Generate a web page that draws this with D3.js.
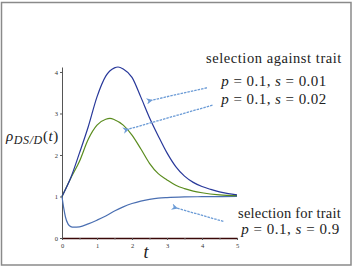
<!DOCTYPE html>
<html>
<head>
<meta charset="utf-8">
<script src="https://cdn.jsdelivr.net/npm/d3@7"></script>
<style>
  body { margin: 0; background: #fff; }
</style>
</head>
<body>
<script>
// values
const tVals = [0, 0.25, 0.5, 0.75, 1, 1.25, 1.5, 1.6, 1.75, 2, 2.25, 2.5, 2.75, 3, 3.25, 3.5, 3.75, 4, 4.25, 4.5, 4.75, 5];
const againstLow = [1.0, 1.45, 2.05, 2.68, 3.4, 3.9, 4.1, 4.12, 4.07, 3.87, 3.4, 2.9, 2.46, 2.05, 1.72, 1.49, 1.34, 1.24, 1.17, 1.11, 1.07, 1.04];

const tVals2 = [0, 0.25, 0.5, 0.75, 1, 1.25, 1.37, 1.5, 1.75, 2, 2.25, 2.5, 2.75, 3, 3.25, 3.5, 3.75, 4, 4.5, 5];
const againstHigh = [1.0, 1.44, 1.85, 2.38, 2.72, 2.86, 2.88, 2.85, 2.72, 2.48, 2.15, 1.8, 1.55, 1.4, 1.27, 1.19, 1.13, 1.09, 1.04, 1.02];

const tVals3 = [0, 0.05, 0.1, 0.17, 0.25, 0.33, 0.5, 0.75, 1, 1.25, 1.5, 1.75, 2, 2.25, 2.5, 2.75, 3, 3.5, 4, 5];
const forTrait = [1.0, 0.72, 0.5, 0.34, 0.275, 0.26, 0.27, 0.34, 0.43, 0.53, 0.65, 0.75, 0.83, 0.89, 0.93, 0.96, 0.975, 0.99, 0.995, 1.0];

const xTicks = [0, 1, 2, 3, 4, 5];
const yTicks = [0, 1, 2, 3, 4];

// arrows: [tailT, tailV, headT, headV]
const arrows = [
  [4.14, 3.62, 2.56, 3.32],
  [4.30, 3.20, 1.89, 2.62],
  [4.61, 0.40, 3.28, 0.72]
];

const serif = '"Liberation Serif", "Times New Roman", serif';

const W = 354, H = 268;
const margin = { top: 67, right: 117, bottom: 30, left: 62 };
const width = W - margin.left - margin.right;
const height = H - margin.top - margin.bottom;

const x = d3.scaleLinear().domain([0, 5]).range([0, width]);
const y = d3.scaleLinear().domain([0, 4.12]).range([height, 0]);

const root = d3.select('body').append('svg')
  .attr('width', W).attr('height', H);

// frame
root.append('rect')
  .attr('x', 1.5).attr('y', 2.5).attr('width', 349.5).attr('height', 262.5)
  .attr('fill', 'none').attr('stroke', '#8a8a8a').attr('stroke-width', 1.5);

const svg = root.append('g')
  .attr('transform', 'translate(' + margin.left + ',' + margin.top + ')');

// y axis
const yAxis = svg.append('g')
  .call(d3.axisLeft(y).tickValues(yTicks).tickFormat(d3.format('d'))
    .tickSize(2).tickSizeOuter(0).tickPadding(2));
yAxis.select('.domain').attr('stroke', '#555').attr('stroke-width', 1);
yAxis.selectAll('.tick line').attr('stroke', '#555');

// x axis
const xAxis = svg.append('g')
  .attr('transform', 'translate(0,' + height + ')')
  .call(d3.axisBottom(x).tickValues(xTicks).tickFormat(d3.format('d'))
    .tickSize(2).tickSizeOuter(0).tickPadding(3));
xAxis.select('.domain').attr('stroke', '#3a0808').attr('stroke-width', 1.6);
xAxis.selectAll('.tick line').attr('stroke', '#555');
svg.append('g')
  .attr('transform', 'translate(0,' + height + ')')
  .call(d3.axisBottom(x).tickValues([0.5, 1.5, 2.5, 3.5, 4.5]).tickSize(1.5).tickFormat(''))
  .call(g => g.select('.domain').remove())
  .selectAll('line').attr('stroke', '#777');

svg.selectAll('.tick text')
  .style('font-family', serif).style('font-size', '6.5px').attr('fill', '#333');

const line = d3.line()
  .x(d => x(d[0]))
  .y(d => y(d[1]))
  .curve(d3.curveMonotoneX);

svg.append('path').datum(d3.zip(tVals3, forTrait))
  .attr('d', line).attr('fill', 'none').attr('stroke', '#4a6fb2').attr('stroke-width', 1.2);
svg.append('path').datum(d3.zip(tVals2, againstHigh))
  .attr('d', line).attr('fill', 'none').attr('stroke', '#5a8c1e').attr('stroke-width', 1.2);
svg.append('path').datum(d3.zip(tVals, againstLow))
  .attr('d', line).attr('fill', 'none').attr('stroke', '#28389a').attr('stroke-width', 1.2);

// arrows
root.append('defs').append('marker')
  .attr('id', 'head').attr('viewBox', '0 0 10 10')
  .attr('refX', 2).attr('refY', 5)
  .attr('markerWidth', 5).attr('markerHeight', 5)
  .attr('orient', 'auto-start-reverse')
  .append('path').attr('d', 'M0,5 L10,0 L7,5 L10,10 Z').attr('fill', '#6b9bd6');

svg.selectAll('.arrow').data(arrows).enter().append('line')
  .attr('class', 'arrow')
  .attr('x1', d => x(d[0])).attr('y1', d => y(d[1]))
  .attr('x2', d => x(d[2])).attr('y2', d => y(d[3]))
  .attr('stroke', '#6b9bd6').attr('stroke-width', 1.3)
  .attr('stroke-dasharray', '2.5,1')
  .attr('marker-end', 'url(#head)');

// annotations
function addText(xPos, yPos, size, anchor, spacing) {
  return root.append('text')
    .attr('x', xPos).attr('y', yPos).attr('text-anchor', anchor || 'middle')
    .style('font-family', serif).style('font-size', size + 'px')
    .style('letter-spacing', (spacing || 0) + 'px').attr('fill', '#222');
}
function mathLine(parts, xPos, yPos, size, spacing) {
  const t = addText(xPos, yPos, size, 'middle', spacing);
  parts.forEach(p => {
    t.append('tspan').text(p[0]).style('font-style', p[1] ? 'italic' : 'normal');
  });
  return t;
}

addText(274, 63, 14.5, 'middle', 0.55).text('selection against trait');
mathLine([['p', 1], [' = 0.1, ', 0], ['s', 1], [' = 0.01', 0]], 274, 86, 15, 0.45);
mathLine([['p', 1], [' = 0.1, ', 0], ['s', 1], [' = 0.02', 0]], 274, 104, 15, 0.45);
addText(289.5, 218, 14.5, 'middle', 0.2).text('selection for trait');
mathLine([['p', 1], [' = 0.1, ', 0], ['s', 1], [' = 0.9', 0]], 290.5, 234, 15, 0.5);

// axis labels
addText(146, 258, 18).style('font-style', 'italic').text('t');

const yl = addText(6, 141, 15, 'start', 0.6);
yl.append('tspan').text('ρ').style('font-style', 'italic');
yl.append('tspan').text('DS/D').style('font-style', 'italic')
  .style('font-size', '12px').attr('dy', 2.5);
yl.append('tspan').text('(').attr('dy', -2.5);
yl.append('tspan').text('t').style('font-style', 'italic');
yl.append('tspan').text(')');
</script>
</body>
</html>
